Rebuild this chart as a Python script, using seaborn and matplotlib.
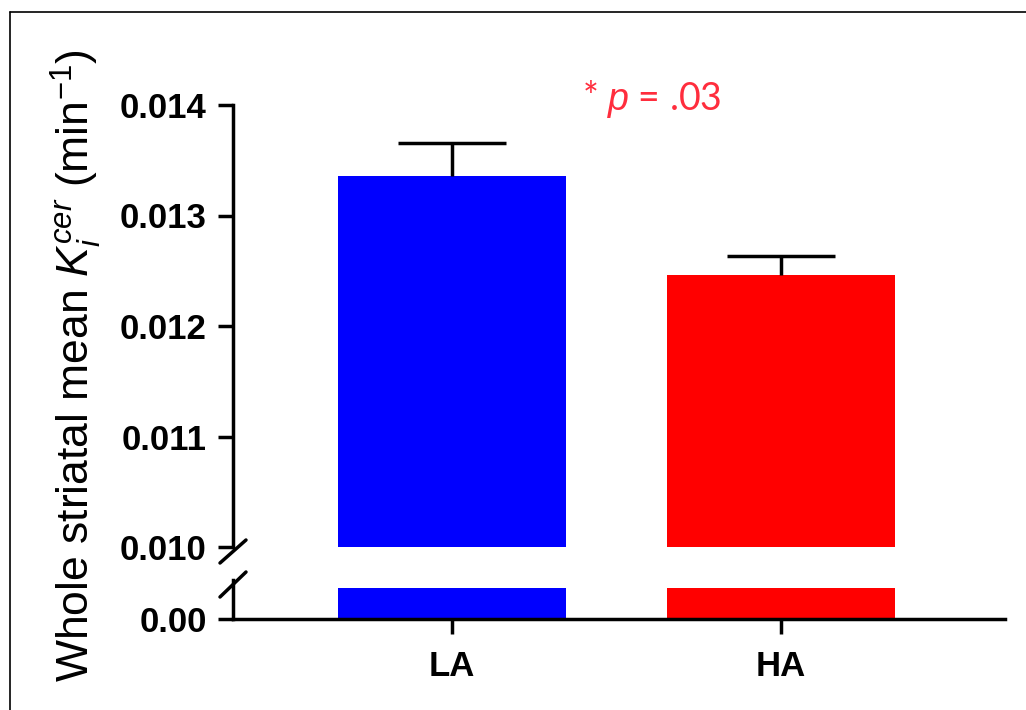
import matplotlib
matplotlib.use('Agg')
import matplotlib.pyplot as plt
from matplotlib.lines import Line2D
import seaborn as sns

# data
groups = ['LA', 'HA']
means = [0.01336, 0.01246]
sem = [0.00030, 0.00017]
colors = ['#0000ff', '#ff0000']
upper_ticks = [0.010, 0.011, 0.012, 0.013, 0.014]
p_text = r'* $p$ = .03'
ylabel = r'Whole striatal mean $K_i^{cer}$ (min$^{-1}$)'

sns.set_style('ticks')
plt.rcParams['font.family'] = ['Liberation Sans', 'DejaVu Sans']
plt.rcParams['mathtext.fontset'] = 'custom'
plt.rcParams['mathtext.rm'] = 'Liberation Sans'
plt.rcParams['mathtext.it'] = 'Liberation Sans:italic'
plt.rcParams['text.color'] = 'black'
plt.rcParams['axes.edgecolor'] = 'black'
plt.rcParams['xtick.color'] = 'black'
plt.rcParams['ytick.color'] = 'black'
plt.rcParams['axes.linewidth'] = 2.5
plt.rcParams['xtick.major.width'] = 2.5
plt.rcParams['ytick.major.width'] = 2.5
plt.rcParams['xtick.major.size'] = 11
plt.rcParams['ytick.major.size'] = 11

W, H = 1026, 710
fig = plt.figure(figsize=(W / 100, H / 100), dpi=100)

def px(x0, y0, x1, y1):
    return [x0 / W, 1 - y1 / H, (x1 - x0) / W, (y1 - y0) / H]

ax_top = fig.add_axes(px(233, 105, 1005, 547))
ax_bot = fig.add_axes(px(233, 588, 1005, 619))

for ax in (ax_top, ax_bot):
    sns.barplot(x=groups, y=means, hue=groups, palette=colors, width=0.693,
                saturation=1, legend=False, errorbar=None, linewidth=0, ax=ax)
    ax.set_xlim(-0.666, 1.681)
    ax.set_xlabel('')
    ax.set_ylabel('')
    ax.spines['top'].set_visible(False)
    ax.spines['right'].set_visible(False)

# upward-only SEM bars: hide the caps sitting on the bar tops
_, caps, _ = ax_top.errorbar([0, 1], means, yerr=[[0, 0], sem], fmt='none',
                             ecolor='black', elinewidth=2.5, capsize=39,
                             capthick=2.5, zorder=5)
for cap in caps:
    if list(cap.get_ydata()) == means:
        cap.set_visible(False)

ax_top.set_ylim(0.010, 0.014)
ax_top.set_yticks(upper_ticks)
ax_top.set_yticklabels(['%.3f' % t for t in upper_ticks])
ax_top.spines['bottom'].set_visible(False)
ax_top.tick_params(axis='x', bottom=False, labelbottom=False)
ax_top.tick_params(axis='y', labelsize=25, pad=8)

ax_bot.set_ylim(0, 0.001)
ax_bot.set_yticks([0])
ax_bot.set_yticklabels(['0.00'])
ax_bot.spines['left'].set_bounds(0, 0.001 * 39 / 31)
ax_bot.set_xticks([0, 1])
ax_bot.set_xticklabels(groups)
ax_bot.tick_params(axis='y', labelsize=25, pad=8)
ax_bot.tick_params(axis='x', labelsize=25, pad=11)

for lab in ax_top.get_yticklabels() + ax_bot.get_yticklabels() + ax_bot.get_xticklabels():
    lab.set_fontweight('bold')

# axis break marks
for (x0, y0, x1, y1) in [(220, 563, 246, 540), (220, 597, 246, 572)]:
    fig.add_artist(Line2D([x0 / W, x1 / W], [1 - y0 / H, 1 - y1 / H],
                          color='black', lw=2.5, transform=fig.transFigure))

fig.text(76 / W, 1 - 366 / H, ylabel, rotation=90, ha='center', va='center',
         fontsize=32)
fig.text(652 / W, 1 - 110 / H, p_text, ha='center', va='baseline',
         fontsize=27, color='#ff2d3d', family=['Lato', 'DejaVu Sans'])

# thin frame on the left and top
fig.add_artist(Line2D([10 / W, 10 / W], [0, 1 - 12 / H], color='black', lw=1.2,
                      transform=fig.transFigure))
fig.add_artist(Line2D([10 / W, 1], [1 - 12 / H, 1 - 12 / H], color='black', lw=1.2,
                      transform=fig.transFigure))

fig.savefig('out.png', dpi=100)
